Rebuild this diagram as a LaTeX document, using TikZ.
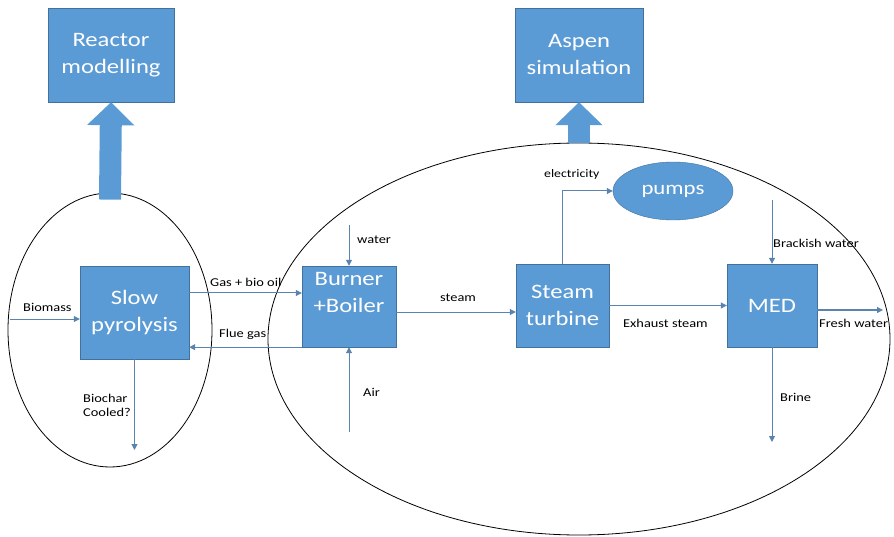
\documentclass[tikz,border=0pt]{standalone}
\usepackage{fontspec}
\setmainfont{Carlito}[FakeStretch=1.2]
\usetikzlibrary{arrows.meta,shapes.geometric}
\definecolor{boxblue}{HTML}{5B9BD5}
\definecolor{boxedge}{HTML}{41719C}
\definecolor{flowblue}{HTML}{5A83AE}
\begin{document}
\begin{tikzpicture}[
  x=1pt, y=-1pt,
  font=\fontsize{12}{14}\selectfont,
  unit/.style={draw=boxedge,fill=boxblue,text=white,align=center,
    font=\fontsize{20.5}{27}\selectfont,inner sep=2pt},
  unittext/.style={text=white,align=center,font=\fontsize{20.5}{27}\selectfont},
  zone/.style={draw=black,ellipse,line width=0.8pt,inner sep=0pt},
  flow/.style={draw=flowblue,line width=1pt,-{Triangle[length=6pt,width=6pt]}},
  bigflow/.style={draw=boxblue,line width=22pt,
    -{Triangle[length=23pt,width=46pt]}},
  lbl/.style={anchor=west,inner sep=0pt,align=left}]
\useasboundingbox (0,0) rectangle (894,537);

% process boundaries
\node[zone,minimum width=204pt,minimum height=274pt] (pyrozone) at (110,330) {};
\node[zone,minimum width=622pt,minimum height=392pt] (plantzone) at (579,339) {};

% modelling boxes
\node[unit,minimum width=126pt,minimum height=94pt] (reactor) at (111,55) {Reactor\\modelling};
\node[unit,minimum width=128pt,minimum height=94pt] (aspen) at (579,55) {Aspen\\simulation};
\draw[bigflow] ([yshift=-7pt]pyrozone.north) -- (reactor.south);
\draw[bigflow] (plantzone.north) -- (aspen.south);

% units
\node[unit,minimum width=109pt,minimum height=93pt] (pyro) at (134.5,312.5) {Slow\\pyrolysis};
\node[unit,minimum width=94pt,minimum height=81pt] (burner) at (349,306.5) {};
\node[unittext] at (349,292) {Burner\\+Boiler};
\node[unit,minimum width=93pt,minimum height=83pt] (turbine) at (562.5,305.5) {Steam\\turbine};
\node[unit,minimum width=90pt,minimum height=83pt] (med) at (772,305.5) {MED};
\node[unit,ellipse,minimum width=120pt,minimum height=58pt,font=\fontsize{19}{24}\selectfont] (pumps) at (673,191) {pumps};

% free ends
\coordinate (bioin) at (10,319);
\coordinate (charout) at (134.5,450);
\coordinate (waterin) at (349,225);
\coordinate (airin) at (349,432);
\coordinate (brackin) at (772,200);
\coordinate (freshout) at (883,310);
\coordinate (brineout) at (772,442);

% streams
\draw[flow] (bioin) -- (bioin -| pyro.west);
\draw[flow] (pyro.south) -- (charout);
\draw[flow] ([yshift=19.5pt]pyro.east) coordinate (gas) -- (gas -| burner.west);
\draw[flow] (burner.south west) -- (burner.south west -| pyro.east);
\draw[flow] (waterin) -- (burner.north);
\draw[flow] (airin) -- (burner.south);
\draw[flow] ([yshift=-5.5pt]burner.east) coordinate (stm) -- (stm -| turbine.west);
\draw[flow] (turbine.north) |- (pumps.west);
\draw[flow] (turbine.east) -- (med.west);
\draw[flow] (brackin) -- (med.north);
\draw[flow] ([yshift=-4.5pt]med.east) -- (freshout);
\draw[flow] (med.south) -- (brineout);

% stream labels
\node[lbl] at (23,307) {Biomass};
\node[lbl] at (83,405) {Biochar\\Cooled?};
\node[lbl] at (210,282) {Gas + bio oil};
\node[lbl] at (219,334) {Flue gas};
\node[lbl] at (357,240) {water};
\node[lbl] at (363,392) {Air};
\node[lbl] at (440,298) {steam};
\node[lbl,font=\fontsize{11.5}{14}\selectfont] at (544,174) {electricity};
\node[lbl] at (623,323) {Exhaust steam};
\node[lbl] at (773,243) {Brackish water};
\node[lbl] at (819,323) {Fresh water};
\node[lbl] at (780,397) {Brine};
\end{tikzpicture}
\end{document}
